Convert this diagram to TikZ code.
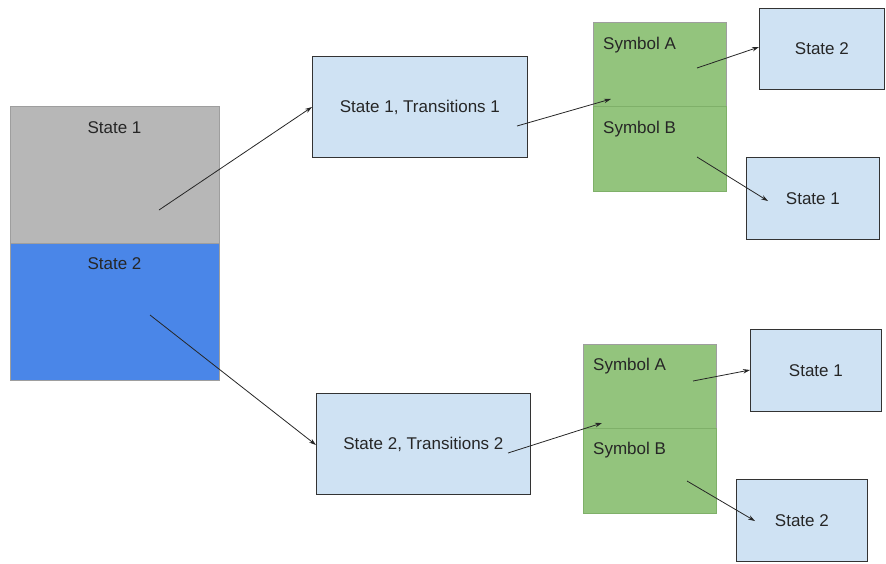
\documentclass[tikz,border=0pt]{standalone}
\usepackage{fontspec}
\setmainfont{Liberation Sans}
\usetikzlibrary{arrows.meta}
\definecolor{graybox}{HTML}{B7B7B7}
\definecolor{bluebox}{HTML}{4A86E8}
\definecolor{lightbox}{HTML}{CFE2F3}
\definecolor{greenbox}{HTML}{93C47D}
\definecolor{greenline}{HTML}{7FB069}
\definecolor{edgegray}{HTML}{9E9E9E}
\begin{document}
\begin{tikzpicture}[x=1pt,y=-1pt,
  every node/.style={font=\fontsize{17}{20}\selectfont, text=black!85},
  cell/.style={draw=edgegray, line width=0.8pt, inner sep=0pt, anchor=north west},
  statebox/.style={draw=black!80, fill=lightbox, line width=0.8pt, inner sep=0pt, anchor=north west},
  symbox/.style={draw=greenline, fill=greenbox, line width=0.8pt, inner sep=0pt, anchor=north west,
                 minimum width=133pt, minimum height=85pt},
  tag/.style={inner sep=0pt, anchor=base},
  symtag/.style={inner sep=0pt, anchor=base west},
  link/.style={draw=black!85, line width=0.8pt, -{Stealth[length=7pt,width=4.5pt]}}]
\useasboundingbox (0,0) rectangle (886,563);

% State table on the left
\node[cell, fill=graybox, minimum width=209pt, minimum height=137pt] (s1) at (10,106) {};
\node[cell, fill=bluebox, minimum width=209pt, minimum height=137pt] (s2) at (10,243) {};
\node[tag] (s1t) at (114.5,133) {State 1};
\node[tag] (s2t) at (114.5,269) {State 2};
\coordinate (s1p) at (159,210);
\coordinate (s2p) at (150,315);

% Transition tables
\node[statebox, minimum width=215pt, minimum height=101pt] (t1) at (312,56) {};
\node[tag] (t1t) at (t1.center) [yshift=-6pt] {State 1, Transitions 1};
\coordinate (t1p) at (517,126);
\node[statebox, minimum width=214pt, minimum height=101pt] (t2) at (316,393) {};
\node[tag] (t2t) at (t2.center) [yshift=-6pt] {State 2, Transitions 2};
\coordinate (t2p) at (508,453);

% Symbol tables, upper group
\node[symbox, draw=edgegray] (a1) at (593,22) {};
\node[symbox] (b1) at (593,106) {};
\node[symtag] (a1t) at (603,49) {Symbol A};
\node[symtag] (b1t) at (603,133) {Symbol B};
\coordinate (g1in) at (611,99);
\coordinate (a1p) at (697,68);
\coordinate (b1p) at (697,157);

% Symbol tables, lower group
\node[symbox, draw=edgegray] (a2) at (583,344) {};
\node[symbox] (b2) at (583,428) {};
\node[symtag] (a2t) at (593,370) {Symbol A};
\node[symtag] (b2t) at (593,454) {Symbol B};
\coordinate (g2in) at (602,423);
\coordinate (a2p) at (693,381);
\coordinate (b2p) at (687,481);

% Target states
\node[statebox, minimum width=125pt, minimum height=81pt] (r1) at (759,8) {};
\node[tag] (r1t) at (r1.center) [yshift=-6pt] {State 2};
\node[statebox, minimum width=133pt, minimum height=82pt] (r2) at (746,157) {};
\node[tag] (r2t) at (r2.center) [yshift=-6pt] {State 1};
\node[statebox, minimum width=131pt, minimum height=82pt] (r3) at (750,329) {};
\node[tag] (r3t) at (r3.center) [yshift=-6pt] {State 1};
\node[statebox, minimum width=131pt, minimum height=82pt] (r4) at (736,479) {};
\node[tag] (r4t) at (r4.center) [yshift=-6pt] {State 2};

% Connectors
\draw[link] (s1p) -- (t1.west |- 0,107);
\draw[link] (s2p) -- (t2.west |- 0,445);
\draw[link] (t1p) -- (g1in);
\draw[link] (t2p) -- (g2in);
\draw[link] (a1p) -- (r1.west |- 0,47);
\draw[link] (b1p) -- (768,201) coordinate (r2in);
\draw[link] (a2p) -- (r3.west |- 0,370);
\draw[link] (b2p) -- (755,521) coordinate (r4in);
\end{tikzpicture}
\end{document}
